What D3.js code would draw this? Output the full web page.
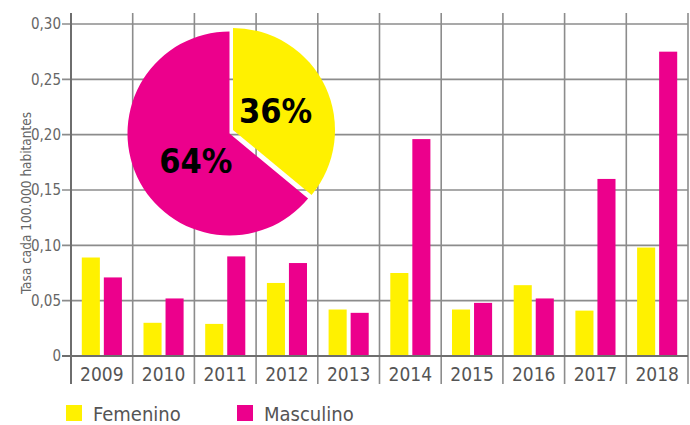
<!DOCTYPE html>
<html>
<head>
<meta charset="utf-8">
<script src="https://cdn.jsdelivr.net/npm/d3@7"></script>
<style>
  body { margin: 0; background: #fff; }
  text { font-family: "DejaVu Sans Condensed", "DejaVu Sans", sans-serif; font-stretch: condensed; }
</style>
</head>
<body>
<script>
//Data
var years = ["2009", "2010", "2011", "2012", "2013", "2014", "2015", "2016", "2017", "2018"];
var series = ["Femenino", "Masculino"];
var femenino = [0.089, 0.030, 0.029, 0.066, 0.042, 0.075, 0.042, 0.064, 0.041, 0.098];
var masculino = [0.071, 0.052, 0.090, 0.084, 0.039, 0.196, 0.048, 0.052, 0.160, 0.275];
var yTicks = [0, 0.05, 0.10, 0.15, 0.20, 0.25, 0.30];
var pieValues = [36, 64];

//Colors
var colors = {Femenino: "#fff100", Masculino: "#ec008c"};
var gridColor = "#8c8c8c";

//Define SVG
var svg = d3.select("body")
    .append("svg")
    .attr("width", 690)
    .attr("height", 425);

//Scales
var x = d3.scaleBand()
    .domain(years)
    .range([71, 688]);

var xSub = d3.scaleBand()
    .domain(series)
    .range([0, x.bandwidth()])
    .paddingInner(0.18)
    .paddingOuter(0.49);

var y = d3.scaleLinear()
    .domain([0, 0.30])
    .range([356, 24]);

var fmt = function(d) { return d === 0 ? "0" : d3.format(".2f")(d).replace(".", ","); };

//Horizontal grid
svg.append("g")
    .selectAll("line")
    .data(yTicks.filter(function(d) { return d > 0; }))
    .enter().append("line")
    .attr("x1", 62).attr("x2", 688)
    .attr("y1", function(d) { return y(d); })
    .attr("y2", function(d) { return y(d); })
    .attr("stroke", gridColor)
    .attr("stroke-width", 1.6);

//Vertical grid (band boundaries)
svg.append("g")
    .selectAll("line")
    .data(years.slice(1).concat(["end"]))
    .enter().append("line")
    .attr("x1", function(d, i) { return x(years[0]) + (i + 1) * x.step(); })
    .attr("x2", function(d, i) { return x(years[0]) + (i + 1) * x.step(); })
    .attr("y1", 13).attr("y2", 384)
    .attr("stroke", gridColor)
    .attr("stroke-width", 1.6);

//Y tick labels
svg.append("g")
    .selectAll("text")
    .data(yTicks)
    .enter().append("text")
    .attr("x", 61)
    .attr("y", function(d) { return y(d); })
    .attr("dy", "0.36em")
    .attr("text-anchor", "end")
    .attr("fill", "#666")
    .style("font-size", "15px")
    .text(fmt);

//Y axis title
svg.append("text")
    .attr("transform", "translate(26,203) rotate(-90)")
    .attr("text-anchor", "middle")
    .attr("dy", "0.35em")
    .attr("fill", "#666")
    .style("font-size", "13.5px")
    .text("Tasa cada 100.000 habitantes");

//Bars
var groups = svg.append("g")
    .selectAll("g")
    .data(years)
    .enter().append("g")
    .attr("transform", function(d) { return "translate(" + x(d) + ",0)"; });

groups.selectAll("rect")
    .data(function(d, i) {
      return [{key: "Femenino", value: femenino[i]}, {key: "Masculino", value: masculino[i]}];
    })
    .enter().append("rect")
    .attr("x", function(d) { return xSub(d.key); })
    .attr("width", xSub.bandwidth())
    .attr("y", function(d) { return y(d.value); })
    .attr("height", function(d) { return y(0) - y(d.value); })
    .attr("fill", function(d) { return colors[d.key]; });

//Axes lines
svg.append("line")
    .attr("x1", 71).attr("x2", 71)
    .attr("y1", 13).attr("y2", 384)
    .attr("stroke", "#6e6e6e")
    .attr("stroke-width", 2);

svg.append("line")
    .attr("x1", 62).attr("x2", 688)
    .attr("y1", y(0)).attr("y2", y(0))
    .attr("stroke", "#6e6e6e")
    .attr("stroke-width", 2.2);

//Year labels
svg.append("g")
    .selectAll("text")
    .data(years)
    .enter().append("text")
    .attr("x", function(d) { return x(d) + x.bandwidth() / 2; })
    .attr("y", 381)
    .attr("text-anchor", "middle")
    .attr("fill", "#555")
    .style("font-size", "19px")
    .text(function(d) { return d; });

//Pie
var pie = d3.pie().sort(null);
var arcs = pie(pieValues);
var r = 102;
var arc = d3.arc().innerRadius(0).outerRadius(r);
var labelArc = d3.arc().innerRadius(46).outerRadius(46);

var pieG = svg.append("g")
    .attr("transform", "translate(229.5,133.5)");

var slice = pieG.selectAll("g")
    .data(arcs)
    .enter().append("g")
    .attr("transform", function(d, i) { return i === 0 ? "translate(3.5,-3.5)" : null; });

slice.append("path")
    .attr("d", arc)
    .attr("fill", function(d, i) { return colors[series[i]]; });

slice.append("text")
    .attr("transform", function(d) { return "translate(" + labelArc.centroid(d) + ")"; })
    .attr("dx", function(d, i) { return i === 0 ? 1 : 8; })
    .attr("dy", function(d, i) { return i === 0 ? "0.36em" : "0.6em"; })
    .attr("text-anchor", "middle")
    .attr("fill", "#000")
    .style("font-size", "34px")
    .style("font-weight", "bold")
    .text(function(d) { return d.value + "%"; });

//Legend
var legend = svg.append("g")
    .selectAll("g")
    .data(series)
    .enter().append("g")
    .attr("transform", function(d, i) { return "translate(" + (66 + i * 171) + ",405)"; });

legend.append("rect")
    .attr("width", 16).attr("height", 16)
    .attr("fill", function(d) { return colors[d]; });

legend.append("text")
    .attr("x", 27)
    .attr("y", 15.5)
    .attr("fill", "#555")
    .style("font-size", "20px")
    .text(function(d) { return d; });
</script>
</body>
</html>
